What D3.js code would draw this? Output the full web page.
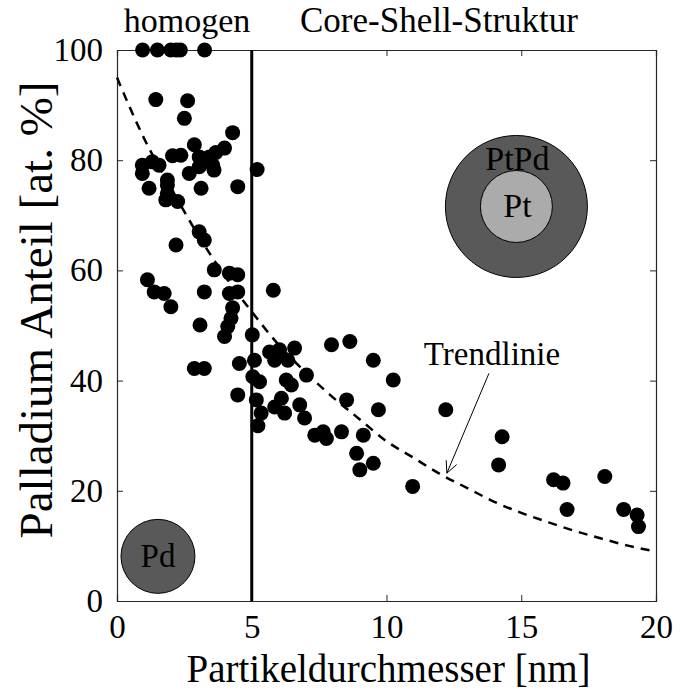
<!DOCTYPE html>
<html><head><meta charset="utf-8">
<script src="https://cdn.jsdelivr.net/npm/d3@7"></script>
<style>
html,body{margin:0;padding:0;background:#fff;}
text{font-family:"Liberation Serif","Times New Roman",serif;fill:#000;}
</style></head>
<body><svg id="chart" width="681" height="695"></svg>
<script>
// ---- data ----
const xTicks = [0, 5, 10, 15, 20];
const yTicks = [0, 20, 40, 60, 80, 100];
const diameter = [0.95,1.5,2.0,2.2,2.35,3.25,
 1.44,2.62,2.5,4.29,
 2.87,2.06,2.37,3.99,3.67,3.43,3.05,3.55,
 0.94,1.31,1.56,2.68,3.05,5.2,0.94,1.87,3.6,
 1.19,1.87,1.87,1.81,2.25,3.12,4.48,
 3.05,3.24,2.19,
 3.61,4.17,4.48,1.13,1.38,1.75,3.24,4.17,4.48,5.8,
 2.0,4.29,4.23,4.11,3.99,3.08,5.02,
 5.66,5.85,4.54,5.1,2.87,3.24,5.04,5.29,
 4.48,5.17,5.85,5.35,5.23,
 6.03,6.59,6.34,7.96,8.64,9.51,7.03,6.28,6.47,10.25,6.1,6.78,8.52,6.22,6.96,9.7,
 7.34,7.65,7.77,8.33,9.14,8.89,9.01,9.51,10.97,
 12.2,14.29,14.16,16.2,16.55,18.1,16.7,18.8,19.3,19.35];
const pdShare = [100,100,100,100,100,100,
 91.0,90.8,87.6,85.0,
 82.8,80.8,80.9,82.2,81.4,80.6,80.6,79.1,
 79.1,79.7,79.1,77.6,78.8,78.3,77.6,76.4,78.2,
 74.9,75.5,74.0,72.8,72.5,74.9,75.2,
 67.0,65.5,64.6,
 60.1,59.5,59.2,58.3,56.1,55.8,56.1,55.8,56.1,56.4,
 53.4,53.2,51.3,49.8,48.0,50.1,48.3,
 45.2,43.7,43.1,43.7,42.2,42.2,40.7,39.8,
 37.4,36.5,35.2,34.1,31.8,
 45.6,45.9,43.7,46.5,47.1,43.7,41.0,40.1,39.2,40.1,36.8,35.6,36.5,34.1,33.2,34.7,
 30.1,30.7,29.5,30.7,30.1,26.8,23.8,25.0,20.8,
 34.7,29.8,24.7,22.0,21.4,22.6,16.6,16.6,15.6,13.5];
const trendX = [0,1,2,3,4,5,6,7,8,9,10,11,12,13,14,15,16,17,18,19,20];
const trendY = [95,84,75,66.5,59,52.5,46.5,41.5,37,33,29,26,23,20.5,18,16,14.3,12.7,11.3,10,9];
const boundaryX = 5;
const regionLabels = ["homogen", "Core-Shell-Struktur"];
const xLabel = "Partikeldurchmesser [nm]";
const yLabel = "Palladium Anteil [at. %]";

// ---- layout ----
const W = 681, H = 695;
const L = 117, R = 656, T = 50, B = 601;
const svg = d3.select("#chart");
const x = d3.scaleLinear().domain([0, 20]).range([L, R]);
const y = d3.scaleLinear().domain([0, 100]).range([B, T]);
const axisColor = "#262626";

// axes
const gx = svg.append("g").attr("transform", `translate(0,${B})`)
  .call(d3.axisBottom(x).tickValues(xTicks).tickSize(-6).tickPadding(14).tickFormat(d3.format("d")));
const gy = svg.append("g").attr("transform", `translate(${L},0)`)
  .call(d3.axisLeft(y).tickValues(yTicks).tickSize(-6).tickPadding(14).tickFormat(d3.format("d")));
const gt = svg.append("g").attr("transform", `translate(0,${T})`)
  .call(d3.axisTop(x).tickValues(xTicks).tickSize(-6).tickFormat(""));
const gr = svg.append("g").attr("transform", `translate(${R},0)`)
  .call(d3.axisRight(y).tickValues(yTicks).tickSize(-6).tickFormat(""));
[gx, gy, gt, gr].forEach(g => {
  g.selectAll("path.domain").attr("stroke", axisColor).attr("stroke-width", 1.2);
  g.selectAll(".tick line").attr("stroke", axisColor).attr("stroke-width", 1);
  g.selectAll(".tick text").attr("font-size", 33).attr("fill", "#262626")
    .style("font-family", '"Liberation Serif","Times New Roman",serif');
});

// trend line
const line = d3.line().x((d, i) => x(trendX[i])).y(d => y(d)).curve(d3.curveMonotoneX);
svg.append("path").datum(trendY).attr("d", line)
  .attr("fill", "none").attr("stroke", "#000").attr("stroke-width", 2.5)
  .attr("stroke-dasharray", "9,7");

// points
svg.append("g").selectAll("circle").data(diameter).join("circle")
  .attr("cx", d => x(d)).attr("cy", (d, i) => y(pdShare[i])).attr("r", 7.5)
  .attr("fill", "#000");

// boundary line
svg.append("line").attr("x1", x(boundaryX)).attr("x2", x(boundaryX))
  .attr("y1", y(100)).attr("y2", y(0)).attr("stroke", "#000").attr("stroke-width", 3);

// region labels
svg.append("text").attr("x", 187).attr("y", 32).attr("text-anchor", "middle")
  .attr("font-size", 34).text(regionLabels[0]);
svg.append("text").attr("x", 439).attr("y", 32).attr("text-anchor", "middle")
  .attr("font-size", 35).text(regionLabels[1]);

// particle sketches
const pd = {cx: 1.52, cy: 8.1, r: 37};
svg.append("circle").attr("cx", x(pd.cx)).attr("cy", y(pd.cy)).attr("r", pd.r)
  .attr("fill", "#595959").attr("stroke", "#000").attr("stroke-width", 1);
svg.append("text").attr("x", x(pd.cx)).attr("y", y(pd.cy) + 11).attr("text-anchor", "middle")
  .attr("font-size", 33).text("Pd");
const cs = {cx: 14.82, cy: 71.6, r1: 71, r2: 36};
svg.append("circle").attr("cx", x(cs.cx)).attr("cy", y(cs.cy)).attr("r", cs.r1)
  .attr("fill", "#595959").attr("stroke", "#000").attr("stroke-width", 1);
svg.append("circle").attr("cx", x(cs.cx)).attr("cy", y(cs.cy)).attr("r", cs.r2)
  .attr("fill", "#ababab").attr("stroke", "#000").attr("stroke-width", 1);
svg.append("text").attr("x", x(cs.cx) + 1).attr("y", y(cs.cy) - 36).attr("text-anchor", "middle")
  .attr("font-size", 34).text("PtPd");
svg.append("text").attr("x", x(cs.cx) + 1).attr("y", y(cs.cy) + 11).attr("text-anchor", "middle")
  .attr("font-size", 34).text("Pt");

// annotation
svg.append("text").attr("x", 492).attr("y", 365).attr("text-anchor", "middle")
  .attr("font-size", 33).text("Trendlinie");
const ax0 = x(13.8), ay0 = y(41.3), ax1 = x(12.24), ay1 = y(23.2);
svg.append("line").attr("x1", ax0).attr("y1", ay0).attr("x2", ax1).attr("y2", ay1)
  .attr("stroke", "#000").attr("stroke-width", 1);
const ang = Math.atan2(ay1 - ay0, ax1 - ax0), hl = 13, spread = 0.45;
[-spread, spread].forEach(s => {
  svg.append("line").attr("x1", ax1).attr("y1", ay1)
    .attr("x2", ax1 - hl * Math.cos(ang + s)).attr("y2", ay1 - hl * Math.sin(ang + s))
    .attr("stroke", "#000").attr("stroke-width", 1);
});

// axis labels
svg.append("text").attr("x", (L + R) / 2 + 2).attr("y", 682).attr("text-anchor", "middle")
  .attr("font-size", 39).attr("fill", "#262626").text(xLabel);
svg.append("text").attr("transform", `translate(52,310) rotate(-90)`)
  .attr("text-anchor", "middle").attr("font-size", 47).attr("fill", "#262626").text(yLabel);
</script></body></html>
